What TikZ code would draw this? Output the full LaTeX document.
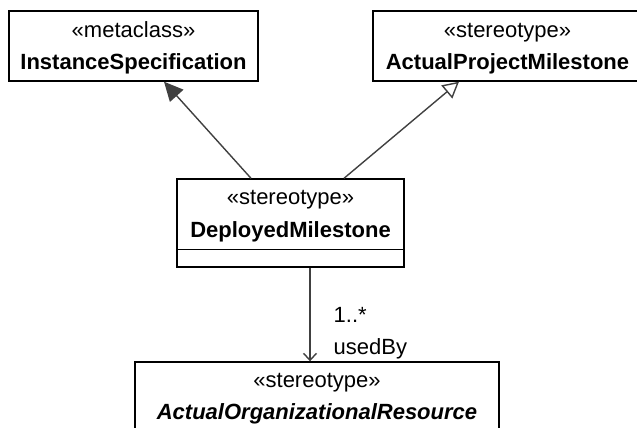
\documentclass[tikz,border=0pt]{standalone}
\usepackage{fontspec}
\setmainfont{Liberation Sans}
\usetikzlibrary{arrows.meta,positioning}
\definecolor{umlline}{HTML}{404040}

\begin{document}
\begin{tikzpicture}[x=1pt,y=-1pt,
cls/.style={draw=black,fill=white,line width=1.4pt,rectangle,inner sep=0pt},
txt/.style={anchor=base,inner sep=0pt,font=\fontsize{22}{26}\selectfont},
cname/.style={txt,font=\fontsize{22}{26}\selectfont\bfseries},
gen/.style={line width=1.4pt,draw=umlline},
lab/.style={anchor=base west,inner sep=0pt,font=\fontsize{22}{26}\selectfont}]
\useasboundingbox (0,0) rectangle (637,428);
% classes
\node[cls,minimum width=249pt,minimum height=70pt] (inst) at (133.5,46) {};
\node[cls,minimum width=269pt,minimum height=70pt] (apm) at (507.5,46) {};
\node[cls,minimum width=227pt,minimum height=88pt] (dm) at (290.5,223) {};
\node[cls,minimum width=364pt,minimum height=90pt] (aor) at (317,407) {};
\draw[line width=1.4pt] ([yshift=18pt]dm.south west)--([yshift=18pt]dm.south east);
\node[txt] (instst) at ([yshift=-27pt]inst.north) {«metaclass»};
\node[cname] (instnm) at ([yshift=-59pt]inst.north) {InstanceSpecification};
\node[txt] (apmst) at ([yshift=-27pt]apm.north) {«stereotype»};
\node[cname] (apmnm) at ([yshift=-59pt]apm.north) {ActualProjectMilestone};
\node[txt] (dmst) at ([yshift=-26pt]dm.north) {«stereotype»};
\node[cname] (dmnm) at ([yshift=-59pt]dm.north) {DeployedMilestone};
\node[txt] (aorst) at ([yshift=-26pt]aor.north) {«stereotype»};
\node[cname,font=\fontsize{22}{26}\selectfont\bfseries\itshape] (aornm) at ([yshift=-58pt]aor.north) {ActualOrganizationalResource};
% generalizations
\draw[gen,-{Triangle[length=19pt,width=18pt]},fill=umlline] ([xshift=-39.5pt]dm.north)--([xshift=30.5pt]inst.south);
\draw[gen,-{Triangle[open,length=16pt,width=17pt,fill=white]}] ([xshift=53.5pt]dm.north)--([xshift=-48.5pt]apm.south);
% association
\draw[gen,-{Straight Barb[length=7pt,width=13pt]}] ([xshift=19.5pt]dm.south)--([xshift=-7pt]aor.north)
node[pos=0.59,lab,xshift=23pt] (mult) {1..*}
node[pos=0.93,lab,xshift=23pt] (role) {usedBy};
\end{tikzpicture}
\end{document}
